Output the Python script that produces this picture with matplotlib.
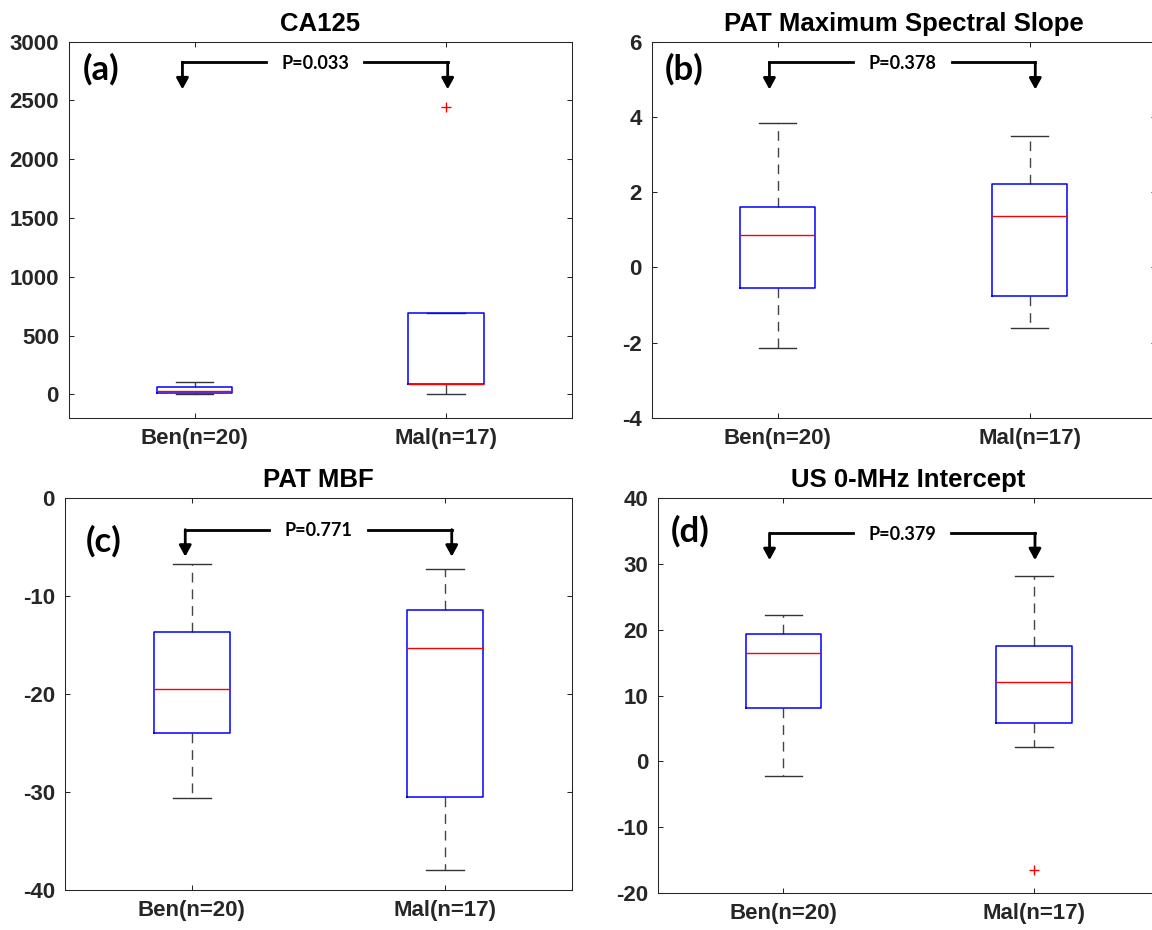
import matplotlib
matplotlib.use("Agg")
import matplotlib.pyplot as plt

# ---- data -------------------------------------------------------------
groups = ["Ben(n=20)", "Mal(n=17)"]
titles = ["CA125", "PAT Maximum Spectral Slope", "PAT MBF", "US 0-MHz Intercept"]
panel_tags = ["(a)", "(b)", "(c)", "(d)"]
p_values = ["P=0.033", "P=0.378", "P=0.771", "P=0.379"]

# five-number summaries per group: [whisker low, Q1, median, Q3, whisker high]
ca125_ben = [8, 15, 32, 62, 108]
ca125_mal = [8, 85, 88, 696, 696]
ca125_out = [[], [2445]]

slope_ben = [-2.14, -0.54, 0.87, 1.61, 3.84]
slope_mal = [-1.60, -0.76, 1.36, 2.23, 3.49]
slope_out = [[], []]

mbf_ben = [-30.64, -24.0, -19.45, -13.66, -6.71]
mbf_mal = [-38.0, -30.54, -15.26, -11.38, -7.19]
mbf_out = [[], []]

icpt_ben = [-2.28, 8.1, 16.46, 19.35, 22.2]
icpt_mal = [2.19, 5.77, 12.06, 17.6, 28.2]
icpt_out = [[], [-16.45]]

y_ranges = [(-200, 3000), (-4, 6), (-40, 0), (-20, 40)]
y_ticks = [list(range(0, 3001, 500)), list(range(-4, 7, 2)),
           list(range(-40, 1, 10)), list(range(-20, 41, 10))]

# ---- layout (figure fractions) -----------------------------------------
W, H = 1152, 930
axes_px = [  # left, top, right, bottom in pixels
    (68.7, 41.7, 572.0, 418.0),
    (651.5, 41.7, 1155.5, 418.0),
    (64.7, 498.3, 572.3, 890.0),
    (658.0, 498.3, 1159.3, 893.0),
]
# bracket geometry: left x, right x, bar y, arrow-tip y (data units)
brackets = [
    (0.952, 2.006, 2825, 2595),
    (0.968, 2.023, 5.45, 4.73),
    (0.975, 2.025, -3.2, -5.96),
    (0.945, 2.004, 34.7, 30.6),
]
tag_pos = [(0.028, 0.926), (0.026, 0.927), (0.041, 0.891), (0.025, 0.917)]

summaries = [(ca125_ben, ca125_mal, ca125_out),
             (slope_ben, slope_mal, slope_out),
             (mbf_ben, mbf_mal, mbf_out),
             (icpt_ben, icpt_mal, icpt_out)]

AX_COLOR = "#262626"
plt.rcParams["font.family"] = ["Liberation Sans", "DejaVu Sans"]
plt.rcParams["axes.unicode_minus"] = False

fig = plt.figure(figsize=(W / 100, H / 100), dpi=100)

for i in range(4):
    l, t, r, b = axes_px[i]
    ax = fig.add_axes([l / W, (H - b) / H, (r - l) / W, (b - t) / H])
    ben, mal, outs = summaries[i]
    stats = []
    for k, s in enumerate((ben, mal)):
        stats.append(dict(whislo=s[0], q1=s[1], med=s[2], q3=s[3], whishi=s[4],
                          fliers=outs[k], label=groups[k]))
    ax.bxp(stats, positions=[1, 2], widths=0.3, showfliers=True,
           boxprops=dict(color="#0000FF", lw=1.1, zorder=3),
           medianprops=dict(color="#FF0000", lw=1.0, zorder=4),
           whiskerprops=dict(color="#444444", lw=1.0, linestyle=(0, (7, 5)), zorder=2),
           capprops=dict(color="#333333", lw=1.0, zorder=2),
           flierprops=dict(marker="+", markeredgecolor="#FF0000",
                           markersize=7, markeredgewidth=1.0, linestyle="none"))

    ax.set_xlim(0.5, 2.5)
    ax.set_ylim(*y_ranges[i])
    ax.set_yticks(y_ticks[i])
    ax.set_xticks([1, 2])
    ax.set_xticklabels(groups)
    for lab in ax.get_xticklabels() + ax.get_yticklabels():
        lab.set_fontweight("bold")
    ax.tick_params(direction="in", length=3.6, width=0.75, colors=AX_COLOR,
                   labelsize=16, top=True, right=True, pad=7)
    for sp in ax.spines.values():
        sp.set_color(AX_COLOR)
        sp.set_linewidth(0.75)
    ax.set_title(titles[i], fontsize=18.5, fontweight="bold", color="black", pad=8)

    # panel tag
    ax.text(tag_pos[i][0], tag_pos[i][1], panel_tags[i], transform=ax.transAxes,
            ha="left", va="center", fontsize=25, fontweight="bold",
            family=["Lato", "DejaVu Sans"], color="black")

    # significance bracket with arrows
    xl, xr, ybar, ytip = brackets[i]
    xm = (xl + xr) / 2
    gap = 0.195
    for xe, xs in ((xl, xm - gap), (xr, xm + gap)):
        ax.plot([xs, xe], [ybar, ybar], color="black", lw=2,
                solid_capstyle="projecting", clip_on=False)
        ax.annotate("", xy=(xe, ytip), xytext=(xe, ybar),
                    arrowprops=dict(arrowstyle="-|>,head_length=0.33,head_width=0.18",
                                    mutation_scale=20, lw=2, color="black",
                                    shrinkA=0, shrinkB=0))
    ax.annotate(p_values[i], xy=(xm, ybar), xytext=(0, -4.6),
                textcoords="offset points", ha="center", va="baseline",
                fontsize=13, fontweight="bold", family=["Lato", "DejaVu Sans"],
                color="black")

fig.savefig("out.png", dpi=100)
